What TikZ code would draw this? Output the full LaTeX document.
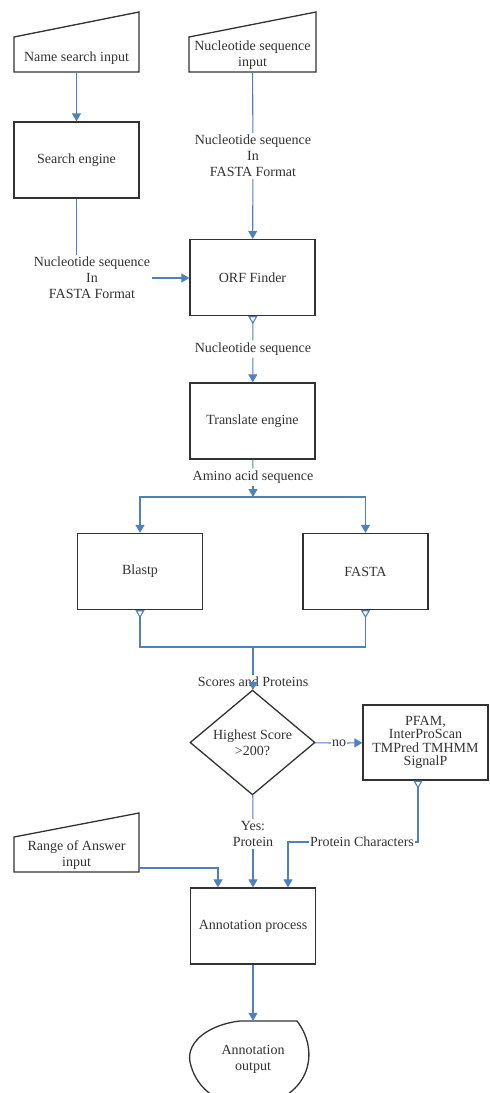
\documentclass[tikz,border=0pt]{standalone}
\usepackage{fontspec}
\setmainfont{Liberation Serif}
\usetikzlibrary{arrows.meta,shapes.geometric}
\definecolor{lineblue}{RGB}{79,129,189}
\definecolor{boxgray}{RGB}{50,50,50}
\tikzset{
  procbox/.style={draw=boxgray, line width=1.3pt, minimum width=125pt, minimum height=76pt, inner sep=2pt},
  inbox/.style={minimum width=125pt, inner sep=1pt, align=center},
  lbl/.style={inner sep=2pt, align=center},
  conn/.style={draw=lineblue, line width=1.1pt},
  arr/.style={conn, -{Triangle[width=9pt,length=8pt]}},
  opentail/.style={conn, {Triangle[open,reversed,width=9pt,length=8pt]}-},
  outline/.style={draw=boxgray, line width=1.3pt}
}
\begin{document}
\begin{tikzpicture}[x=1pt,y=1pt,yscale=-1,font=\fontsize{14}{16}\selectfont,text=boxgray]
    \useasboundingbox (0,0) rectangle (490,1093);

    %Shape: manual inputs
    \draw [outline] (14,37) -- (139,12) -- (139,72) -- (14,72) -- cycle ;
    \draw [outline] (189,37) -- (316,12) -- (316,72) -- (189,72) -- cycle ;
    \draw [outline] (14,837) -- (139,813) -- (139,872) -- (14,872) -- cycle ;
    %Shape: display (annotation output)
    \draw [outline] (240,1021) -- (297,1021) .. controls (318,1048) and (314,1092) .. (262,1106) .. controls (222,1110) and (196,1090) .. (190,1062) .. controls (186,1040) and (212,1024) .. (240,1021) -- cycle ;

    % Nodes
    \node [inbox, minimum height=28pt] (nsi) at (76.5,58) {Name search input};
    \node [inbox, minimum height=34pt] (nsq) at (252.5,55) {Nucleotide sequence\\input};
    \node [procbox] (se) at (76.5,160) {Search engine};
    \node [lbl] (nff1) at (92,278) {Nucleotide sequence\\In\\FASTA Format};
    \node [lbl] (nff2) at (253,156) {Nucleotide sequence\\In\\FASTA Format};
    \node [procbox] (orf) at (252.5,277.5) {ORF Finder};
    \node [lbl] (ns) at (253,349) {Nucleotide sequence};
    \node [procbox] (te) at (252.5,421) {Translate engine};
    \node [lbl] (aas) at (253,477) {Amino acid sequence};
    \coordinate (split) at (253,497);
    \node [procbox] (blastp) at (140,571.5) {Blastp};
    \node [procbox] (fasta) at (365.5,571.5) {FASTA};
    \coordinate (join) at (253,647);
    \node [lbl] (sap) at (253,682) {Scores and Proteins};
    \node [diamond, draw=boxgray, line width=1.3pt, minimum width=125pt, minimum height=75pt, inner sep=0pt, align=center] (dia) at (252.5,742.5) {Highest Score\\>200?};
    \node [procbox, minimum height=75pt, align=center, font=\fontsize{14}{13.5}\selectfont] (pfam) at (425.5,742.5) {PFAM,\\InterProScan\\TMPred TMHMM\\SignalP};
    \node [lbl, inner sep=1pt] (no) at (339,743) {no};
    \node [lbl] (yes) at (253,834) {Yes:\\Protein};
    \node [lbl, inner sep=1pt] (pc) at (362,842) {Protein Characters};
    \node [inbox, minimum height=34pt] (ra) at (76.5,855) {Range of Answer\\input};
    \node [procbox] (ap) at (253,926) {Annotation process};
    \node [inbox, minimum height=76pt] (out) at (253,1059) {Annotation\\output};

    % Connectors
    \draw [arr] (nsi) -- (se);
    \draw [conn] (se) -- (se |- nff1.north);
    \draw [arr] (nff1.east) -- (nff1.east -| orf.west);
    \draw [conn] (nsq) -- (nff2);
    \draw [arr] (nff2) -- (orf);
    \draw [opentail] (orf) -- (ns);
    \draw [arr] (ns) -- (te);
    \draw [conn] (te) -- (aas);
    \draw [arr] (aas) -- (split);
    \draw [arr] (split) -| (blastp);
    \draw [arr] (split) -| (fasta);
    \draw [opentail] (blastp) |- (join);
    \draw [opentail] (fasta) |- (join);
    \draw [conn] (join) -- (sap);
    \draw [arr] (sap) -- (dia);
    \draw [conn] (dia) -- (no);
    \draw [arr] (no) -- (pfam);
    \draw [conn] (dia) -- (yes);
    \draw [arr] (yes) -- (ap);
    \draw [opentail] ([xshift=-7.5pt]pfam.south) |- (pc);
    \draw [arr] (pc) -| ([xshift=35pt]ap.north);
    \draw [arr] ([yshift=13pt]ra.east) -| ([xshift=-35pt]ap.north);
    \draw [arr] (ap) -- (out);

\end{tikzpicture}
\end{document}
